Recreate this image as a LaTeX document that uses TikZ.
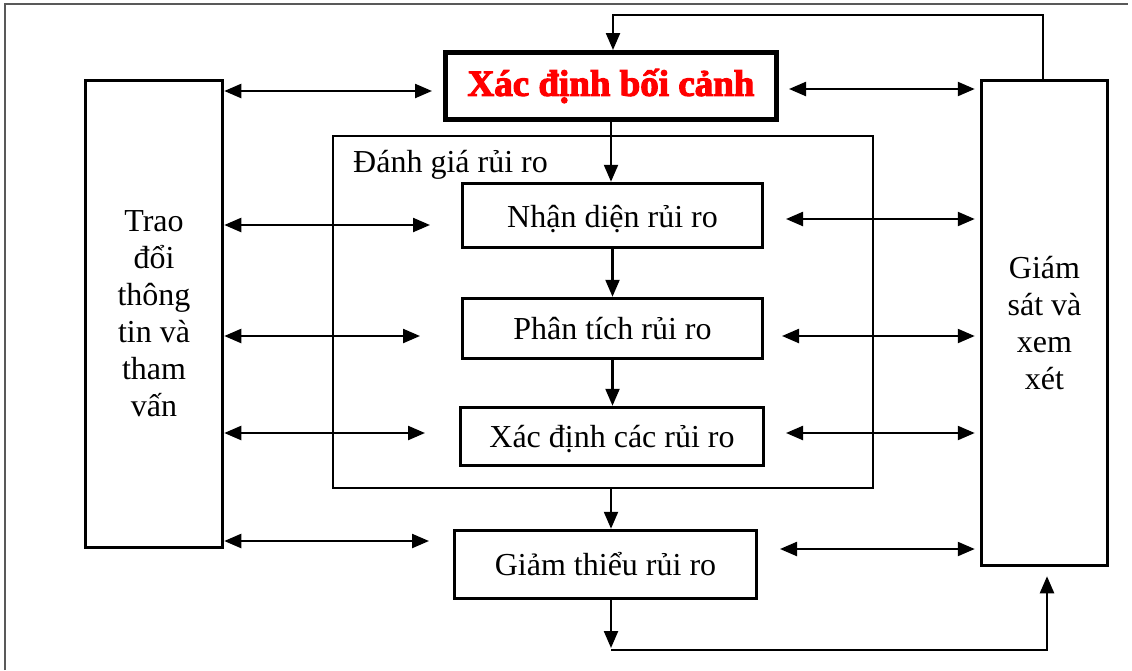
\documentclass[tikz,border=0pt]{standalone}
\usepackage{fontspec}
\setmainfont{Liberation Serif}
\newfontfamily\titlefont[FakeBold=3]{Liberation Serif Bold}
\usetikzlibrary{arrows.meta}
\begin{document}
\begin{tikzpicture}[x=1pt,y=-1pt,
  font=\fontsize{32}{37}\selectfont,
  box/.style={draw, line width=3.5pt, inner sep=0pt, align=center},
  tipA/.tip={Triangle[length=17pt,width=14pt]},
  arr/.style={line width=2.3pt, -tipA},
  darr/.style={line width=2.3pt, tipA-tipA}]
\useasboundingbox (0,0) rectangle (1132,670);
% frame
\draw[black!65, line width=1.5pt] (5,670) -- (5,4) -- (1128,4);
% nodes
\node[box, line width=5pt, minimum width=331pt, minimum height=67pt, text=red,
      font=\titlefont\fontsize{37}{40}\selectfont] (ctx) at (611,86) {Xác định bối cảnh};
\node[draw, line width=2pt, minimum width=540pt, minimum height=352pt, inner sep=0pt] (eval) at (603,312) {};
\node[anchor=base west, inner sep=0pt] (evallbl) at (353,172) {Đánh giá rủi ro};
\node[box, minimum width=300pt, minimum height=64pt, text height=28pt, text depth=4pt] (nhan) at (612.5,215.5) {Nhận diện rủi ro};
\node[box, minimum width=300pt, minimum height=60pt, text height=27pt, text depth=5pt] (phan) at (612.5,328.5) {Phân tích rủi ro};
\node[box, minimum width=303pt, minimum height=58pt, text height=27pt, text depth=5pt] (xd) at (612,436.5) {Xác định các rủi ro};
\node[box, minimum width=302pt, minimum height=68pt] (giam) at (605.5,564.5) {Giảm thiểu rủi ro};
\node[box, minimum width=137pt, minimum height=467pt] (trao) at (154,314) {Trao\\đổi\\thông\\tin và\\tham\\vấn};
\node[box, minimum width=126pt, minimum height=485pt] (gs) at (1044.5,323) {Giám\\sát và\\xem\\xét};
% vertical flow
\coordinate (col) at (611,0);
\draw[arr] (ctx.south) -- (ctx.south |- nhan.north);
\draw[arr] (nhan.south) -- (nhan.south |- phan.north);
\draw[arr] (phan.south) -- (phan.south |- xd.north);
\draw[arr] (eval.south -| col) -- (giam.north -| col);
\coordinate (b1) at (611,648);
\draw[arr] (giam.south -| col) -- (b1);
\coordinate (b2) at (611,650);
\coordinate (rc) at (1047,650);
\draw[arr, shorten >=9pt] (b2) -- (rc) -- (gs.south -| rc);
\coordinate (tr) at (1043,15);
\coordinate (tl) at (613,15);
\draw[arr] (gs.north -| tr) -- (tr) -- (tl) -- (ctx.north -| tl);
% left double arrows
\coordinate (l1) at (432,91);
\coordinate (l2) at (430,225);
\coordinate (l3) at (420,336);
\coordinate (l4) at (425,433);
\coordinate (l5) at (429,541);
\foreach \c in {l1,l2,l3,l4,l5} \draw[darr] (trao.east |- \c) -- (\c);
% right double arrows
\coordinate (r1) at (789,89);
\coordinate (r2) at (786,219);
\coordinate (r3) at (782,336);
\coordinate (r4) at (786,433);
\coordinate (r5) at (780,549);
\foreach \c in {r1,r2,r3,r4,r5} \draw[darr, shorten >=5pt] (\c) -- (gs.west |- \c);
\end{tikzpicture}
\end{document}
